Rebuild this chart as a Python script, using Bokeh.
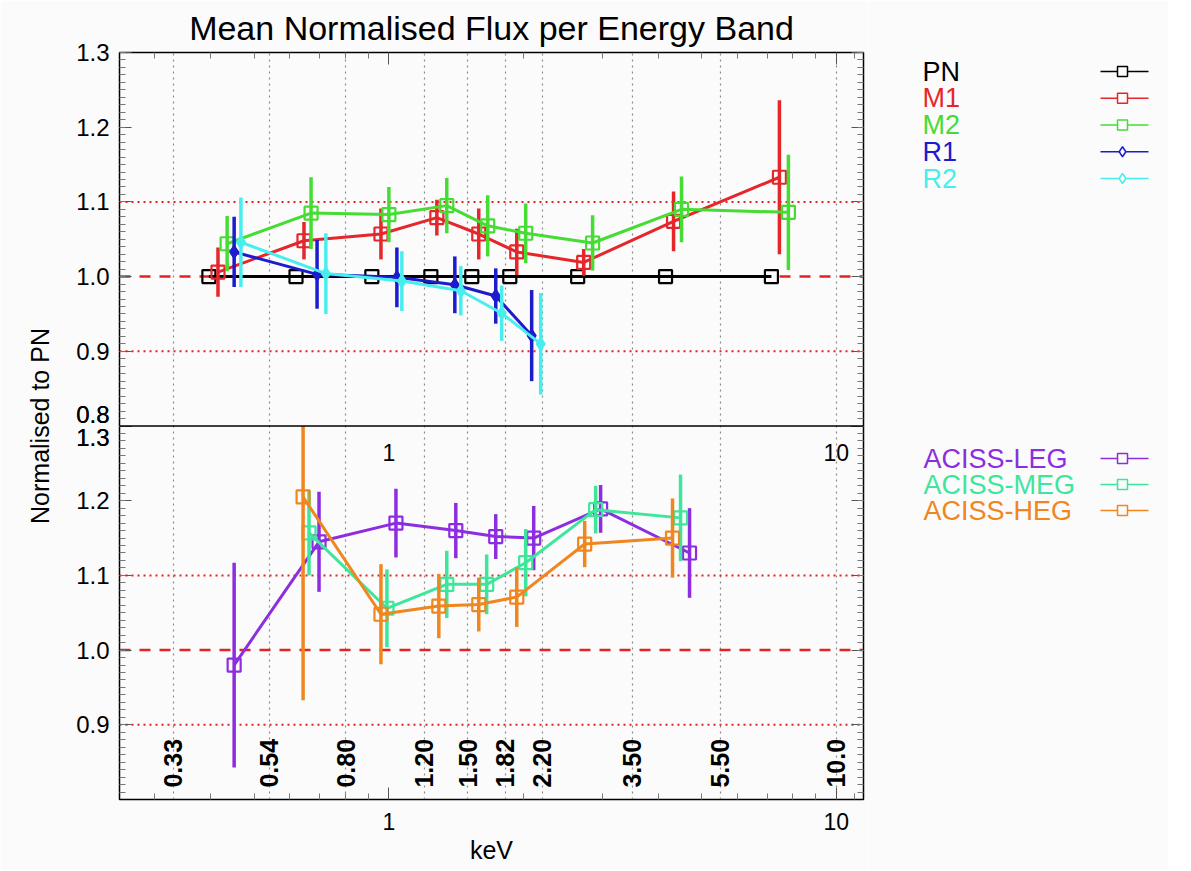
from bokeh.plotting import figure
from bokeh.models import (Range1d, LinearAxis, LogAxis, FixedTicker, Span,
                          CustomJSTickFormatter)
from bokeh.layouts import row
from bokeh.embed import file_html
from bokeh.resources import INLINE
from bokeh.core.properties import value
import math

# ---------------- data ----------------
band_edges = [0.33, 0.54, 0.80, 1.20, 1.50, 1.82, 2.20, 3.50, 5.50, 10.0]
band_labels = ["0.33", "0.54", "0.80", "1.20", "1.50", "1.82", "2.20", "3.50", "5.50", "10.0"]
x_major = [1, 10]
x_major_labels = ["1", "10"]
y_tick_vals = [0.8, 0.9, 1.0, 1.1, 1.2, 1.3]

pn_e = [0.396, 0.620, 0.916, 1.241, 1.532, 1.863, 2.642, 4.152, 7.160]
pn_v = [1.0, 1.0, 1.0, 1.0, 1.0, 1.0, 1.0, 1.0, 1.0]
pn_err = [0.0, 0.0, 0.0, 0.0, 0.0, 0.0, 0.0, 0.0, 0.0]

m1_e = [0.415, 0.646, 0.960, 1.280, 1.588, 1.931, 2.725, 4.327, 7.461]
m1_v = [1.006, 1.048, 1.057, 1.079, 1.057, 1.033, 1.019, 1.074, 1.133]
m1_err = [0.033, 0.025, 0.034, 0.024, 0.034, 0.031, 0.018, 0.040, 0.103]

m2_e = [0.435, 0.670, 1.000, 1.347, 1.663, 2.022, 2.853, 4.508, 7.813]
m2_v = [1.044, 1.085, 1.083, 1.095, 1.068, 1.058, 1.045, 1.090, 1.086]
m2_err = [0.037, 0.048, 0.037, 0.037, 0.041, 0.040, 0.037, 0.044, 0.077]

r1_e = [0.451, 0.691, 1.042, 1.404, 1.733, 2.085]
r1_v = [1.033, 1.003, 0.999, 0.989, 0.974, 0.921]
r1_err = [0.047, 0.046, 0.040, 0.038, 0.037, 0.061]

r2_e = [0.467, 0.723, 1.069, 1.448, 1.787, 2.184]
r2_v = [1.046, 1.004, 0.994, 0.981, 0.951, 0.910]
r2_err = [0.060, 0.054, 0.040, 0.033, 0.037, 0.068]

leg_e = [0.451, 0.698, 1.037, 1.411, 1.733, 2.107, 2.973, 4.698]
leg_v = [0.980, 1.145, 1.170, 1.160, 1.152, 1.150, 1.189, 1.130]
leg_err = [0.137, 0.067, 0.046, 0.037, 0.030, 0.043, 0.032, 0.060]

meg_e = [0.663, 0.990, 1.347, 1.654, 2.022, 2.898, 4.485]
meg_v = [1.157, 1.056, 1.088, 1.088, 1.117, 1.188, 1.177]
meg_err = [0.057, 0.052, 0.045, 0.040, 0.045, 0.032, 0.058]

heg_e = [0.643, 0.960, 1.293, 1.588, 1.931, 2.739, 4.304]
heg_v = [1.205, 1.048, 1.059, 1.061, 1.071, 1.142, 1.150]
heg_err = [0.272, 0.067, 0.043, 0.036, 0.040, 0.031, 0.053]

top_names = ["PN", "M1", "M2", "R1", "R2"]
bot_names = ["ACISS-LEG", "ACISS-MEG", "ACISS-HEG"]

# ---------------- style ----------------
FONT = "Liberation Sans"
BG = "#fbfbfb"
RED = "#e02424"
C_PN, C_M1, C_M2, C_R1, C_R2 = "#000000", "#e5262a", "#46dc34", "#1c1ccc", "#48eeee"
C_LEG, C_MEG, C_HEG = "#8c2ee0", "#3ee69c", "#f0861e"

Y_LO, Y_HI = 0.8, 1.3   # each panel's y-range

W_MAIN, H = 868, 870
p = figure(width=W_MAIN, height=H, x_axis_type="log",
           x_range=Range1d(0.25, 11.5), y_range=Range1d(Y_LO - 0.5, Y_HI),
           output_backend="svg", toolbar_location=None,
           min_border_left=119, min_border_right=5, min_border_top=52, min_border_bottom=71,
           background_fill_color=BG, border_fill_color=BG)
p.extra_y_ranges = {"bot": Range1d(Y_LO, Y_HI + 0.5)}
p.outline_line_color = "black"
p.outline_line_width = 1.5

p.title.text = "Mean Normalised Flux per Energy Band"
p.title.align = "center"
p.title.text_font = FONT
p.title.text_font_size = "34px"
p.title.text_font_style = "normal"
p.title.text_color = "black"
p.title.standoff = 11

# grid
p.ygrid.visible = False
p.xgrid.ticker = FixedTicker(ticks=band_edges)
p.xgrid.grid_line_color = "#8a8a8a"
p.xgrid.grid_line_dash = "dotted"
p.xgrid.grid_line_width = 1.2

x_minor = [0.3, 0.4, 0.5, 0.6, 0.7, 0.8, 0.9, 2, 3, 4, 5, 6, 7, 8, 9, 11]
xt = FixedTicker(ticks=x_major, minor_ticks=x_minor)

def style_axis(ax):
    ax.major_tick_in = 12
    ax.major_tick_out = 0
    ax.minor_tick_in = 6
    ax.minor_tick_out = 0
    ax.axis_line_color = "black"
    ax.major_tick_line_color = "#555555"
    ax.minor_tick_line_color = "#777777"
    ax.major_label_text_font = FONT
    ax.major_label_text_color = "black"
    ax.axis_label_text_font = FONT
    ax.axis_label_text_font_style = "normal"
    ax.axis_label_text_color = "black"

xa = p.xaxis[0]
xa.ticker = xt
xa.major_label_overrides = {1: "1", 10: "10"}
style_axis(xa)
xa.major_label_text_font_size = "23px"
xa.major_label_standoff = 13
xa.axis_label = "keV"
xa.axis_label_text_font_size = "25px"
xa.axis_label_standoff = 3

ta = LogAxis(ticker=xt, major_label_text_font_size="1px", major_label_text_alpha=0,
             major_label_standoff=0)
style_axis(ta)
p.add_layout(ta, "above")

# y ticks: top panel uses the default range, bottom panel sits 0.5 lower;
# at the shared boundary both panels' labels (0.8 above, 1.3 below) are shown
y_pos = [round(v - 0.5, 2) for v in y_tick_vals] + y_tick_vals
y_minor = [round(Y_LO - 0.5 + 0.01 * i, 2) for i in range(101)]
yt = FixedTicker(ticks=y_pos, minor_ticks=y_minor)
ya = p.yaxis[0]
ya.ticker = yt
ya.formatter = CustomJSTickFormatter(code="""
    if (Math.abs(tick - 0.8) < 1e-6) { return "0.8\\n1.3"; }
    const v = tick < 0.8 ? tick + 0.5 : tick;
    return v.toFixed(1);
""")
style_axis(ya)
ya.major_label_text_font_size = "24px"
ya.major_label_text_line_height = 0.85
ya.major_label_standoff = 10
ya.axis_label = "Normalised to PN"
ya.axis_label_text_font_size = "25px"
ya.axis_label_standoff = 19

ra = LinearAxis(ticker=yt, major_label_text_font_size="1px", major_label_text_alpha=0,
                major_label_standoff=0)
style_axis(ra)
p.add_layout(ra, "right")

# reference lines in both panels and the panel boundary
for rn in ["default", "bot"]:
    p.add_layout(Span(location=1.0, dimension="width", y_range_name=rn, line_color=RED,
                      line_dash="11 9", line_width=2.5, level="underlay"))
    for loc in (0.9, 1.1):
        p.add_layout(Span(location=loc, dimension="width", y_range_name=rn, line_color=RED,
                          line_dash="2 4", line_width=2, level="underlay"))
p.add_layout(Span(location=Y_LO, dimension="width", line_color="black", line_width=1.5))

# band labels (bottom panel) and the top panel's decade labels
p.text(x=band_edges, y=0.816, text=band_labels, angle=math.pi / 2, y_range_name="bot",
       text_align="left", text_baseline="alphabetic", text_font=value(FONT),
       text_font_size="25px", text_font_style="bold", text_color="black")
p.text(x=x_major, y=1.264, text=x_major_labels, y_range_name="bot", text_align="center",
       text_baseline="middle", text_font=value(FONT), text_font_size="23px",
       text_color="black")


def draw(e, v, err, color, marker, rn, filled, ymax):
    kw = {} if rn == "default" else {"y_range_name": rn}
    lo = [a - b for a, b in zip(v, err)]
    hi = [min(a + b, ymax) for a, b in zip(v, err)]
    p.segment(x0=e, y0=lo, x1=e, y1=hi, line_color=color, line_width=3.5, **kw)
    p.line(e, v, line_color=color, line_width=3, **kw)
    if filled:
        p.scatter(e, v, marker=marker, size=13, line_color=color, fill_color=color,
                  line_width=1.5, **kw)
    else:
        p.scatter(e, v, marker=marker, size=13, line_color=color, fill_color=None,
                  line_width=2.2, **kw)


draw(pn_e, pn_v, pn_err, C_PN, "square", "default", False, Y_HI)
draw(m1_e, m1_v, m1_err, C_M1, "square", "default", False, Y_HI)
draw(m2_e, m2_v, m2_err, C_M2, "square", "default", False, Y_HI)
draw(r1_e, r1_v, r1_err, C_R1, "diamond", "default", True, Y_HI)
draw(r2_e, r2_v, r2_err, C_R2, "diamond", "default", True, Y_HI)
draw(leg_e, leg_v, leg_err, C_LEG, "square", "bot", False, Y_HI)
draw(meg_e, meg_v, meg_err, C_MEG, "square", "bot", False, Y_HI)
draw(heg_e, heg_v, heg_err, C_HEG, "square", "bot", False, Y_HI)

# ---------------- legend panel (page-pixel coordinates, frame aligned with main) ----------------
W_LEG = 300
lf = figure(width=W_LEG, height=H, x_range=Range1d(W_MAIN, W_MAIN + W_LEG),
            y_range=Range1d(H - 71, 52),
            output_backend="svg", toolbar_location=None,
            min_border_left=0, min_border_right=0, min_border_top=52, min_border_bottom=71,
            background_fill_color=BG, border_fill_color=BG)
lf.axis.visible = False
lf.grid.visible = False
lf.outline_line_color = None

top_cols = [C_PN, C_M1, C_M2, C_R1, C_R2]
top_marks = ["square", "square", "square", "diamond", "diamond"]
top_rows = [71 + 26.75 * i for i in range(len(top_names))]
lf.text(x=922, y=top_rows, text=top_names, text_color=top_cols, text_font=value(FONT),
        text_font_size="27px", text_baseline="middle", text_align="left")
lf.segment(x0=1100, y0=top_rows, x1=1148, y1=top_rows, line_color=top_cols, line_width=1.5)
lf.scatter(x=1122, y=top_rows, marker=top_marks, size=10, line_color=top_cols,
           fill_color=BG, line_width=1.5)

bot_cols = [C_LEG, C_MEG, C_HEG]
bot_rows = [458 + 26 * i for i in range(len(bot_names))]
lf.text(x=923, y=bot_rows, text=bot_names, text_color=bot_cols, text_font=value(FONT),
        text_font_size="27px", text_baseline="middle", text_align="left")
lf.segment(x0=1100, y0=bot_rows, x1=1148, y1=bot_rows, line_color=bot_cols, line_width=1.5)
lf.scatter(x=1122, y=bot_rows, marker="square", size=10, line_color=bot_cols,
           fill_color=BG, line_width=1.5)

layout = row(p, lf)
open("out.html", "w").write(file_html(layout, INLINE))
